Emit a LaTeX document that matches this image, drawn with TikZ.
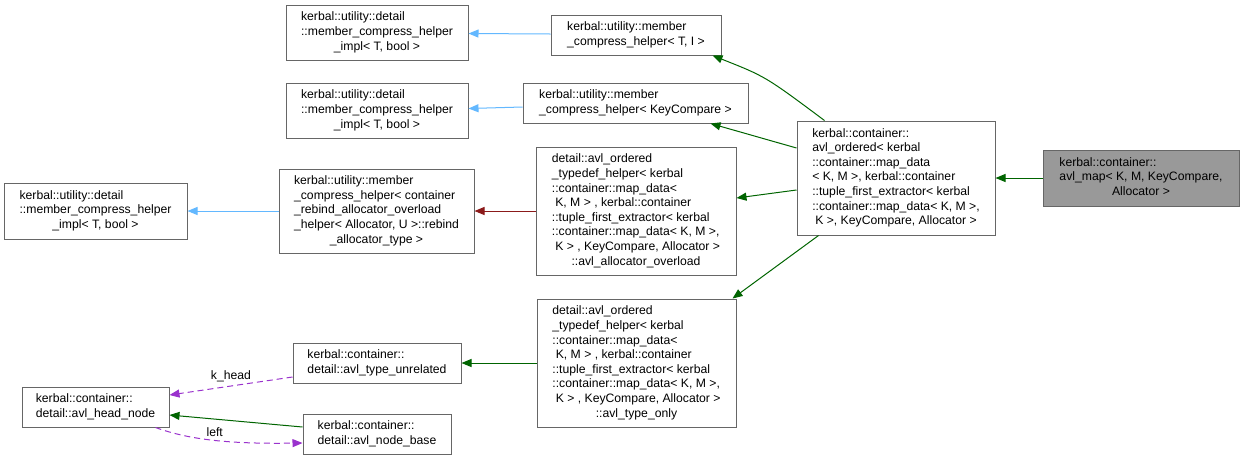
\documentclass[tikz,border=0pt]{standalone}
\usepackage{fontspec}
\setmainfont{Liberation Sans}
\usetikzlibrary{arrows.meta}
\definecolor{boxline}{HTML}{666666}
\definecolor{rootfill}{HTML}{999999}
\definecolor{dgreen}{HTML}{006400}
\definecolor{sblue}{HTML}{63B8FF}
\definecolor{fbrick}{HTML}{8B1A1A}
\definecolor{dorchid}{HTML}{9A32CD}
\newcommand{\mlines}[2]{\begin{tabular}{@{}l@{}}#1\\\multicolumn{1}{@{}c@{}}{#2}\end{tabular}}
\tikzset{
  cls/.style={draw=boxline, line width=1pt, fill=white, rectangle, inner sep=0pt,
    font=\fontsize{12.2}{14.6}\selectfont},
  rootcls/.style={cls, fill=rootfill},
  tip/.style={-{Triangle[length=10pt,width=8pt]}},
  pub/.style={tip, draw=dgreen, line width=1pt},
  cmp/.style={tip, draw=sblue, line width=1pt},
  prv/.style={tip, draw=fbrick, line width=1pt},
  usage/.style={tip, draw=dorchid, line width=1pt, dash pattern=on 6pt off 4pt},
  elabel/.style={font=\fontsize{12.2}{14}\selectfont, inner sep=1pt}
}
\begin{document}
\begin{tikzpicture}[x=1pt,y=-1pt]
\useasboundingbox (0,0) rectangle (1244,459);
\node[rootcls, minimum width=196pt, minimum height=56pt] (r) at (1141,178)
  {\mlines{kerbal::container::\\avl\_map< K, M, KeyCompare,}{Allocator >}};
\node[cls, minimum width=198pt, minimum height=114pt] (c) at (896,178)
  {\mlines{kerbal::container::\\avl\_ordered< kerbal\\::container::map\_data\\< K, M >, kerbal::container\\::tuple\_first\_extractor< kerbal\\::container::map\_data< K, M >,}{K >, KeyCompare, Allocator >}};
\node[cls, minimum width=170pt, minimum height=40pt] (b1) at (636,35)
  {\mlines{kerbal::utility::member}{\_compress\_helper< T, I >}};
\node[cls, minimum width=225pt, minimum height=40pt] (b2) at (635.5,103)
  {\mlines{kerbal::utility::member}{\_compress\_helper< KeyCompare >}};
\node[cls, minimum width=182pt, minimum height=55pt] (a1) at (377,32.5)
  {\mlines{kerbal::utility::detail\\::member\_compress\_helper}{\_impl< T, bool >}};
\node[cls, minimum width=182pt, minimum height=55pt] (a2) at (377,110.5)
  {\mlines{kerbal::utility::detail\\::member\_compress\_helper}{\_impl< T, bool >}};
\node[cls, minimum width=200pt, minimum height=128pt] (e) at (636,211)
  {\mlines{detail::avl\_ordered\\\_typedef\_helper< kerbal\\::container::map\_data<\\\ K, M > , kerbal::container\\::tuple\_first\_extractor< kerbal\\::container::map\_data< K, M >,\\\ K > , KeyCompare, Allocator >}{::avl\_allocator\_overload}};
\node[cls, minimum width=195pt, minimum height=84pt] (d) at (376.5,211)
  {\mlines{kerbal::utility::member\\\_compress\_helper< container\\\_rebind\_allocator\_overload\\\_helper< Allocator, U >::rebind}{\_allocator\_type >}};
\node[cls, minimum width=183pt, minimum height=56pt] (a3) at (95.5,211)
  {\mlines{kerbal::utility::detail\\::member\_compress\_helper}{\_impl< T, bool >}};
\node[cls, minimum width=199pt, minimum height=128pt] (f) at (636.5,363)
  {\mlines{detail::avl\_ordered\\\_typedef\_helper< kerbal\\::container::map\_data<\\\ K, M > , kerbal::container\\::tuple\_first\_extractor< kerbal\\::container::map\_data< K, M >,\\\ K > , KeyCompare, Allocator >}{::avl\_type\_only}};
\node[cls, minimum width=168pt, minimum height=40pt] (g) at (377,363)
  {\mlines{kerbal::container::}{detail::avl\_type\_unrelated}};
\node[cls, minimum width=147pt, minimum height=40pt] (h) at (95.5,407)
  {\mlines{kerbal::container::}{detail::avl\_head\_node}};
\node[cls, minimum width=148pt, minimum height=40pt] (i) at (377,434)
  {\mlines{kerbal::container::}{detail::avl\_node\_base}};
% edges
\draw[pub] (r.west) -- (c.east);
\draw[pub] ([xshift=28pt]c.north west) .. controls (765.5,76.5) .. ([xshift=-9pt]b1.south east);
\draw[pub] ([yshift=30pt]c.west) -- ([xshift=-38pt]b2.south east);
\draw[pub] ([yshift=-12pt]c.west) -- ([yshift=13pt]e.east);
\draw[pub] ([xshift=22pt]c.south west) -- ([xshift=-4pt]f.north east);
\draw[cmp] ([yshift=1pt]b1.west) -- ([yshift=-1pt]a1.east);
\draw[cmp] ([yshift=-4pt]b2.west) -- ([yshift=2pt]a2.east);
\draw[prv] (e.west) -- (d.east);
\draw[cmp] (d.west) -- (a3.east);
\draw[pub] (f.west) -- (g.east);
\draw[usage] ([yshift=-14pt]g.west) -- node[elabel, above=3pt, pos=0.5] {k\_head} ([yshift=12pt]h.east);
\draw[pub] ([yshift=7pt]i.west) -- ([yshift=-8pt]h.east);
\draw[usage] ([xshift=-14pt]h.south east) .. controls (190,440) and (230,444) .. node[elabel, above=2pt, pos=0.5] {left} ([yshift=-9pt]i.west);
\end{tikzpicture}
\end{document}
